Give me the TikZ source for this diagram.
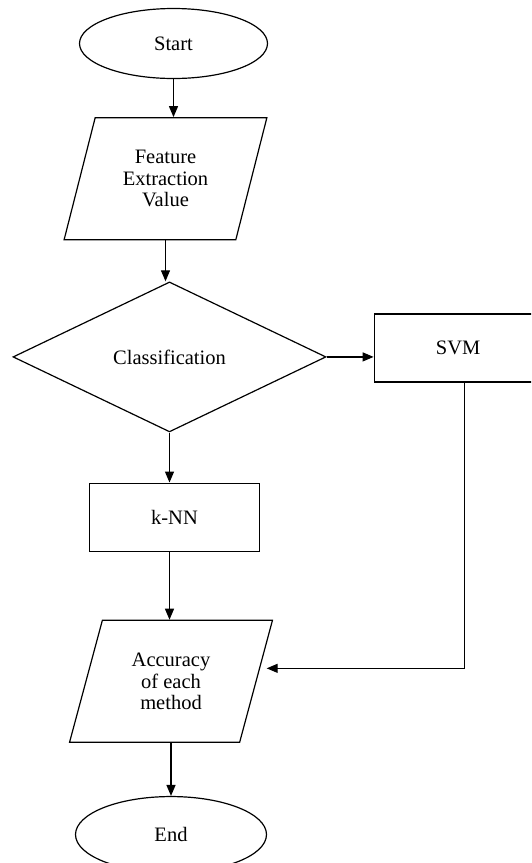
\documentclass[tikz,border=0pt]{standalone}
\usepackage{fontspec}
\setmainfont{Liberation Serif}
\usetikzlibrary{arrows.meta,positioning,shapes.geometric}

\begin{document}
\begin{tikzpicture}[x=1pt,y=1pt,
 base/.style={draw=black,line width=1.2pt,align=center,
              font=\fontsize{20.5}{21.5}\selectfont,inner sep=2pt},
 term/.style={base,ellipse,minimum width=188pt,minimum height=70pt},
 io/.style={base,trapezium,trapezium left angle=72,trapezium right angle=108,
            trapezium stretches=true,minimum width=203pt,minimum height=122pt},
 decide/.style={base,diamond,minimum width=313pt,minimum height=150pt},
 proc/.style={base,minimum width=170pt,minimum height=68pt},
 arrow/.style={-{Triangle[length=11pt,width=9pt]},line width=1.2pt}]
\useasboundingbox (0,0) rectangle (531,-863);
\clip (0,0) rectangle (531,-863);
\node[term] (start) at (173.5,-43.5) {Start};
\node[io,below=38pt of start,xshift=-8pt] (feat) {Feature\\Extraction\\Value};
\node[decide,below=41pt of feat,xshift=4pt] (class) {Classification};
\node[proc,right=47pt of class,yshift=9pt,minimum width=168pt] (svm) {SVM};
\node[proc,below=50pt of class,xshift=5pt] (knn) {k-NN};
\node[io,below=68pt of knn,xshift=-3.5pt] (acc) {Accuracy\\of each\\method};
\node[term,below=53pt of acc,minimum width=191pt,minimum height=76pt] (end) {End};
\draw[arrow] (start.south)--(start.south |- feat.north);
\draw[arrow] (feat.south)--(feat.south |- class.north);
\draw[arrow] (class.east)--(class.east -| svm.west);
\draw[arrow] (class.south)--(class.south |- knn.north);
\draw[arrow] (knn.south -| class.south)--(class.south |- acc.north);
\draw[arrow] ([xshift=6pt]svm.south) |- ([xshift=10pt,yshift=13pt]acc.east);
\draw[arrow] (acc.south)--(acc.south |- end.north);
\end{tikzpicture}
\end{document}
